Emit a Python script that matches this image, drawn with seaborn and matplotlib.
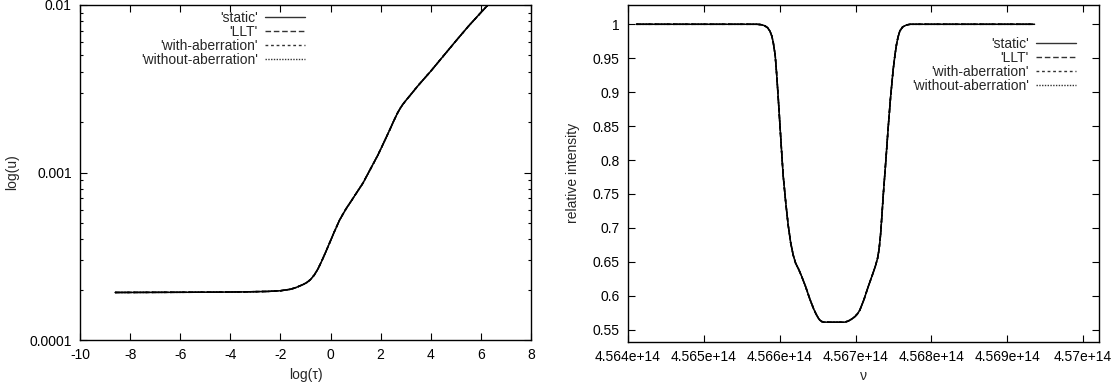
import numpy as np
import pandas as pd
import matplotlib
matplotlib.use('Agg')
import matplotlib.pyplot as plt
import seaborn as sns
from matplotlib.ticker import LogLocator, NullFormatter, NullLocator

# ---------------- data ----------------
series_names = ["'static'", "'LLT'", "'with-aberration'", "'without-aberration'"]

log_tau = [-8.6, -7.5, -6.5, -5.5, -4.5, -3.5, -2.5, -2.0, -1.6, -1.4, -1.24, -1.1,
           -0.95, -0.8, -0.65, -0.5, -0.35, -0.2, -0.04, 0.15, 0.36, 0.5, 0.63, 0.8,
           1.0, 1.29, 1.6, 1.89, 2.12, 2.36, 2.55, 2.69, 2.8, 2.9, 3.0, 3.1, 3.2, 3.5,
           4.0, 4.5, 5.0, 5.5, 6.0, 6.3]
u_values = [1.922e-4, 1.924e-4, 1.926e-4, 1.928e-4, 1.931e-4, 1.937e-4, 1.950e-4,
            1.968e-4, 2.009e-4, 2.051e-4, 2.099e-4, 2.143e-4, 2.203e-4, 2.296e-4,
            2.443e-4, 2.661e-4, 2.965e-4, 3.334e-4, 3.793e-4, 4.426e-4, 5.200e-4,
            5.662e-4, 6.109e-4, 6.668e-4, 7.413e-4, 8.630e-4, 1.054e-3, 1.271e-3,
            1.503e-3, 1.795e-3, 2.075e-3, 2.291e-3, 2.443e-3, 2.570e-3, 2.685e-3,
            2.799e-3, 2.917e-3, 3.311e-3, 4.027e-3, 4.955e-3, 6.095e-3, 7.464e-3,
            9.016e-3, 1.007e-2]

nu = [4.56411e14, 4.5645e14, 4.5650e14, 4.5655e14, 4.5657e14, 4.56575e14, 4.5658e14,
      4.56584e14, 4.565871e14, 4.565895e14, 4.565914e14, 4.56594e14, 4.565959e14,
      4.56598e14, 4.566003e14, 4.566025e14, 4.566046e14, 4.56608e14, 4.566112e14,
      4.566145e14, 4.566178e14, 4.56621e14, 4.56625e14, 4.566288e14, 4.56634e14,
      4.566398e14, 4.56645e14, 4.56648e14, 4.566507e14, 4.56653e14, 4.566555e14,
      4.56658e14, 4.56665e14, 4.56675e14, 4.56685e14, 4.5669e14, 4.56694e14,
      4.56699e14, 4.56703e14, 4.567057e14, 4.56711e14, 4.567166e14, 4.56722e14,
      4.56726e14, 4.56729e14, 4.56731e14, 4.56733e14, 4.56735e14, 4.567364e14,
      4.5674e14, 4.56743e14, 4.56746e14, 4.567495e14, 4.56752e14, 4.56754e14,
      4.56756e14, 4.567584e14, 4.56762e14, 4.567672e14, 4.56772e14, 4.5680e14,
      4.5685e14, 4.5690e14, 4.56936e14]
rel_intensity = [1.0, 1.0, 1.0, 1.0, 1.0, 0.9995, 0.998, 0.995, 0.990, 0.983, 0.974,
                 0.955, 0.928, 0.893, 0.852, 0.813, 0.777, 0.737, 0.704, 0.678, 0.660,
                 0.648, 0.639, 0.629, 0.614, 0.595, 0.580, 0.573, 0.5675, 0.564, 0.562,
                 0.5612, 0.561, 0.561, 0.561, 0.5625, 0.565, 0.569, 0.574, 0.579, 0.594,
                 0.613, 0.630, 0.643, 0.655, 0.668, 0.690, 0.722, 0.746, 0.800, 0.847,
                 0.890, 0.932, 0.955, 0.970, 0.981, 0.990, 0.996, 0.999, 1.0, 1.0, 1.0,
                 1.0, 1.0]

tau_ticks = [-10, -8, -6, -4, -2, 0, 2, 4, 6, 8]
u_ticks = [0.0001, 0.001, 0.01]
u_tick_labels = ['0.0001', '0.001', '0.01']
nu_ticks = [4.564e14, 4.565e14, 4.566e14, 4.567e14, 4.568e14, 4.569e14, 4.570e14]
nu_tick_labels = ['4.564e+14', '4.565e+14', '4.566e+14', '4.567e+14',
                  '4.568e+14', '4.569e+14', '4.57e+14']
int_ticks = [0.55, 0.6, 0.65, 0.7, 0.75, 0.8, 0.85, 0.9, 0.95, 1.0]
int_tick_labels = ['0.55', '0.6', '0.65', '0.7', '0.75', '0.8', '0.85', '0.9', '0.95', '1']

# ---------------- style ----------------
FS = 10
sns.set_theme(style='ticks')
plt.rcParams['font.family'] = ['Liberation Sans', 'DejaVu Sans']
plt.rcParams['font.size'] = FS
plt.rcParams['axes.edgecolor'] = 'black'
plt.rcParams['axes.linewidth'] = 1.0

palette = {s: 'black' for s in series_names}
dashes = {"'static'": '', "'LLT'": (4, 2), "'with-aberration'": (2, 2),
          "'without-aberration'": (1, 1)}

fig = plt.figure(figsize=(11.13, 3.83), dpi=100)
ax1 = fig.add_axes([80 / 1113, 1 - 340 / 383, 451 / 1113, 335 / 383])
ax2 = fig.add_axes([628 / 1113, 1 - 341.5 / 383, 471 / 1113, 336.5 / 383])

df_left = pd.concat([pd.DataFrame({'tau': log_tau, 'u': u_values, 'series': s})
                     for s in series_names], ignore_index=True)
df_right = pd.concat([pd.DataFrame({'nu': nu, 'I': rel_intensity, 'series': s})
                      for s in series_names], ignore_index=True)

sns.lineplot(data=df_left, x='tau', y='u', hue='series', style='series',
             palette=palette, dashes=dashes, estimator=None, sort=False,
             linewidth=1.1, ax=ax1)
sns.lineplot(data=df_right, x='nu', y='I', hue='series', style='series',
             palette=palette, dashes=dashes, estimator=None, sort=False,
             linewidth=1.1, ax=ax2)


def redo_legend(ax, anchor):
    leg = ax.get_legend()
    handles = list(leg.legend_handles)
    labels = [t.get_text() for t in leg.get_texts()]
    for h in handles:
        h.set_color('#333333')
        h.set_linewidth(1.0)
    ax.legend(handles, labels, loc='upper right', bbox_to_anchor=anchor,
              frameon=False, markerfirst=False, handlelength=2.9,
              handletextpad=0.5, labelspacing=0.0, borderpad=0,
              borderaxespad=0, fontsize=FS)


# left axes
ax1.set_yscale('log')
ax1.set_xlim(-10, 8)
ax1.set_ylim(1e-4, 1e-2)
ax1.set_xticks(tau_ticks, labels=[str(t) for t in tau_ticks])
ax1.set_yticks(u_ticks, labels=u_tick_labels)
ax1.yaxis.set_minor_locator(LogLocator(base=10, subs=np.arange(2, 10)))
ax1.yaxis.set_minor_formatter(NullFormatter())
ax1.xaxis.set_minor_locator(NullLocator())
ax1.set_xlabel('log(τ)', fontsize=FS, labelpad=4)
ax1.set_ylabel('log(u)', fontsize=FS, labelpad=7)
redo_legend(ax1, ((305 - 80) / 451, 0.983))

# right axes
ax2.set_xlim(4.564e14, 4.57021e14)
ax2.set_ylim(0.5326, 1.0284)
ax2.set_xticks(nu_ticks, labels=nu_tick_labels)
ax2.set_yticks(int_ticks, labels=int_tick_labels)
ax2.set_xlabel('ν', fontsize=FS, labelpad=4)
ax2.set_ylabel('relative intensity', fontsize=FS, labelpad=9)
redo_legend(ax2, ((1076 - 628) / 471, 0.905))

for ax in (ax1, ax2):
    ax.tick_params(which='both', direction='in', top=True, right=True,
                   colors='black', labelsize=FS, pad=6, width=0.8)
    ax.tick_params(which='major', length=5)
    ax.tick_params(which='minor', length=2.5)
    for sp in ax.spines.values():
        sp.set_visible(True)
        sp.set_color('black')
        sp.set_linewidth(1.0)

fig.savefig('out.png', dpi=100, facecolor='white')
